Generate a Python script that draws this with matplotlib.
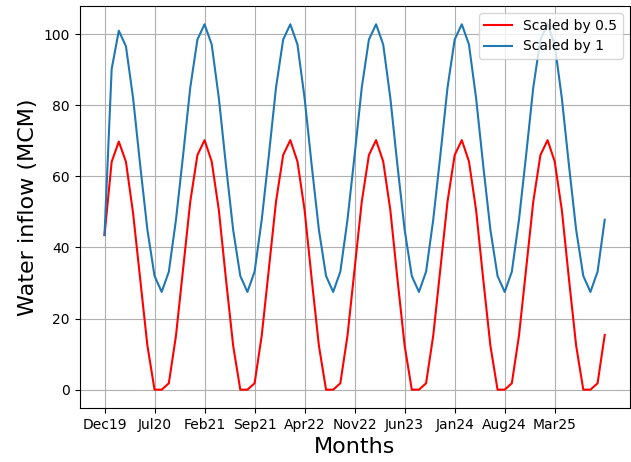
import numpy as np
import matplotlib
matplotlib.use('Agg')
import matplotlib.pyplot as plt

# monthly inflow, Dec19 .. Oct25
scaled_1 = [43.5,
            90.2, 101.0, 96.6, 82.0, 63.0, 45.0, 32.0, 27.5, 33.2, 47.8, 66.0, 85.0,
            98.5, 102.8, 97.1, 82.0, 63.0, 45.0, 32.0, 27.5, 33.2, 47.8, 66.0, 85.0,
            98.5, 102.8, 97.1, 82.0, 63.0, 45.0, 32.0, 27.5, 33.2, 47.8, 66.0, 85.0,
            98.5, 102.8, 97.1, 82.0, 63.0, 45.0, 32.0, 27.5, 33.2, 47.8, 66.0, 85.0,
            98.5, 102.8, 97.1, 82.0, 63.0, 45.0, 32.0, 27.5, 33.2, 47.8, 66.0, 85.0,
            98.5, 102.8, 97.1, 82.0, 63.0, 45.0, 32.0, 27.5, 33.2, 47.8]
scaled_05 = [43.5,
             64.1, 69.8, 64.1, 49.6, 31.0, 12.4, 0.0, 0.0, 1.8, 15.2, 34.0, 52.9,
             66.0, 70.2, 64.2, 50.5, 31.0, 12.4, 0.0, 0.0, 1.8, 15.2, 34.0, 52.9,
             66.0, 70.2, 64.2, 50.5, 31.0, 12.4, 0.0, 0.0, 1.8, 15.2, 34.0, 52.9,
             66.0, 70.2, 64.2, 50.5, 31.0, 12.4, 0.0, 0.0, 1.8, 15.2, 34.0, 52.9,
             66.0, 70.2, 64.2, 50.5, 31.0, 12.4, 0.0, 0.0, 1.8, 15.2, 34.0, 52.9,
             66.0, 70.2, 64.2, 50.5, 31.0, 12.4, 0.0, 0.0, 1.8, 15.4]
tick_labels = ['Dec19', 'Jul20', 'Feb21', 'Sep21', 'Apr22', 'Nov22',
               'Jun23', 'Jan24', 'Aug24', 'Mar25']

x = np.arange(len(scaled_1))

fig, ax = plt.subplots(figsize=(6.31, 4.62), dpi=100)
ax.plot(x, scaled_05, color='red', label='Scaled by 0.5')
ax.plot(x, scaled_1, color='tab:blue', label='Scaled by 1')
ax.set_xticks(np.arange(len(tick_labels)) * 7)
ax.set_xticklabels(tick_labels)
ax.grid(True)
ax.legend(loc='upper right')
ax.set_xlabel('Months', fontsize=16)
ax.set_ylabel('Water inflow (MCM)', fontsize=16)
fig.subplots_adjust(left=0.126, right=0.998, top=0.987, bottom=0.117)
plt.savefig('out.png')
